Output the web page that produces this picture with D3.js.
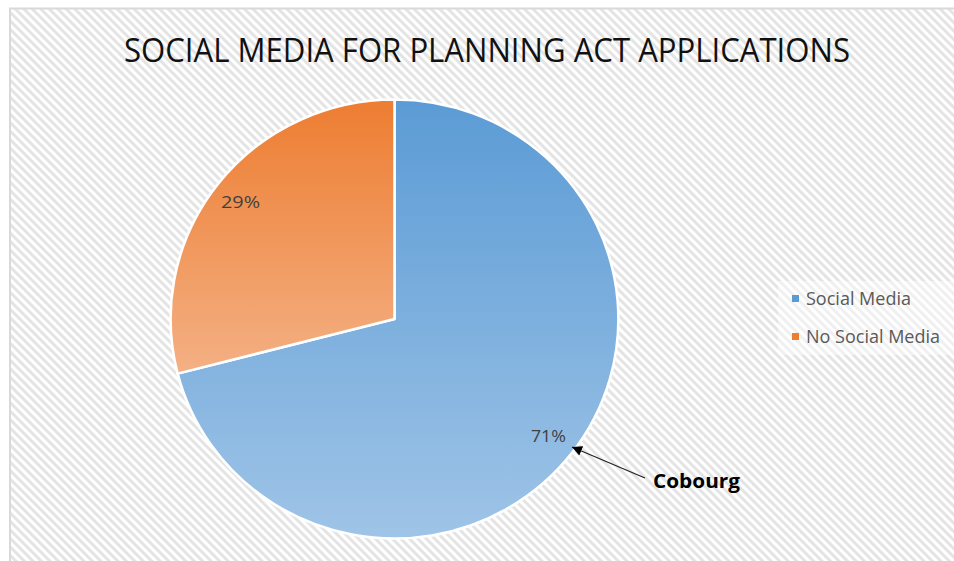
<!DOCTYPE html>
<html>
<head>
<meta charset="utf-8">
<script src="https://cdn.jsdelivr.net/npm/d3@7"></script>
<style>
  html, body { margin: 0; padding: 0; background: #fff; }
  svg { display: block; }
</style>
</head>
<body>
<svg id="chart" width="954" height="561"></svg>
<script>
// Chart data
const categories = ["Social Media", "No Social Media"];
const shares = [71, 29];
const labels = ["71%", "29%"];
const titleText = "SOCIAL MEDIA FOR PLANNING ACT APPLICATIONS";
const calloutText = "Cobourg";

const W = 954, H = 561;
const svg = d3.select("#chart");
const defs = svg.append("defs");

// Diagonal hatch used for the chart area background
const hatch = defs.append("pattern")
  .attr("id", "hatch")
  .attr("patternUnits", "userSpaceOnUse")
  .attr("width", 6).attr("height", 6)
  .attr("patternTransform", "rotate(45)");
hatch.append("rect").attr("width", 6).attr("height", 6).attr("fill", "#ffffff");
hatch.append("rect").attr("width", 6).attr("height", 3).attr("fill", "#e4e4e4");

// Vertical gradients for each slice
const gradStops = [
  ["#5b9bd5", "#9fc4e7"],
  ["#ed7d31", "#f4b084"]
];
gradStops.forEach((s, i) => {
  const g = defs.append("linearGradient")
    .attr("id", "grad" + i)
    .attr("x1", 0).attr("y1", 0).attr("x2", 0).attr("y2", 1);
  g.append("stop").attr("offset", "0%").attr("stop-color", s[0]);
  g.append("stop").attr("offset", "100%").attr("stop-color", s[1]);
});

// Chart area with border (runs past the right and bottom edges)
svg.append("rect")
  .attr("x", 10).attr("y", 8.5)
  .attr("width", W + 20).attr("height", H + 20)
  .attr("fill", "url(#hatch)")
  .attr("stroke", "#d9d9d9").attr("stroke-width", 2);

// Title
svg.append("text")
  .attr("x", 487).attr("y", 62)
  .attr("text-anchor", "middle")
  .attr("font-family", "'Open Sans', sans-serif")
  .attr("font-size", 32)
  .attr("fill", "#111")
  .attr("textLength", 726)
  .attr("lengthAdjust", "spacingAndGlyphs")
  .text(titleText);

// Pie
const cx = 394.5, cy = 319, r = 219.5, sx = 1.02;
const pie = d3.pie().sort(null).value(d => d)(shares);
const arc = d3.arc().innerRadius(0).outerRadius(r);
const labelArc = d3.arc().innerRadius(191).outerRadius(191);

const pg = svg.append("g")
  .attr("transform", `translate(${cx},${cy}) scale(${sx},1)`);
pg.selectAll("path")
  .data(pie)
  .join("path")
  .attr("d", arc)
  .attr("fill", (d, i) => `url(#grad${i})`)
  .attr("stroke", "#ffffff")
  .attr("stroke-width", 2.5)
  .attr("stroke-linejoin", "round");

// Data labels
svg.append("g").selectAll("text")
  .data(pie)
  .join("text")
  .attr("x", d => cx + labelArc.centroid(d)[0] * sx)
  .attr("y", d => cy + labelArc.centroid(d)[1])
  .attr("dy", "0.35em")
  .attr("text-anchor", "middle")
  .attr("font-family", "'Open Sans', sans-serif")
  .attr("font-size", 17)
  .attr("fill", "#404040")
  .attr("textLength", (d, i) => i === 0 ? 35 : 39)
  .attr("lengthAdjust", "spacingAndGlyphs")
  .text((d, i) => labels[i]);

// Legend
const legendColors = ["#5b9bd5", "#ed7d31"];
const legendWidths = [105, 134];
svg.append("rect")
  .attr("x", 778).attr("y", 281).attr("width", 176).attr("height", 74)
  .attr("fill", "#ffffff").attr("opacity", 0.45);
const lg = svg.append("g").selectAll("g")
  .data(categories)
  .join("g")
  .attr("transform", (d, i) => `translate(792,${299 + i * 38})`);
lg.append("rect")
  .attr("x", 0).attr("y", -4).attr("width", 7).attr("height", 7)
  .attr("fill", (d, i) => legendColors[i]);
lg.append("text")
  .attr("x", 14).attr("y", 0)
  .attr("dy", "0.35em")
  .attr("font-family", "'Open Sans', sans-serif")
  .attr("font-size", 18)
  .attr("fill", "#595959")
  .attr("textLength", (d, i) => legendWidths[i])
  .attr("lengthAdjust", "spacingAndGlyphs")
  .text(d => d);

// Callout arrow pointing to the Social Media slice
defs.append("marker")
  .attr("id", "arrowhead")
  .attr("viewBox", "0 0 10 10")
  .attr("refX", 10).attr("refY", 5)
  .attr("markerWidth", 10).attr("markerHeight", 10)
  .attr("markerUnits", "userSpaceOnUse")
  .attr("orient", "auto")
  .append("path")
  .attr("d", "M0,0 L10,5 L0,10 Z")
  .attr("fill", "#000");

svg.append("line")
  .attr("x1", 645).attr("y1", 478)
  .attr("x2", 572).attr("y2", 447)
  .attr("stroke", "#222")
  .attr("stroke-width", 1.3)
  .attr("marker-end", "url(#arrowhead)");

svg.append("text")
  .attr("x", 653).attr("y", 488)
  .attr("font-family", "'Open Sans', sans-serif")
  .attr("font-weight", "bold")
  .attr("font-size", 19)
  .attr("fill", "#000")
  .attr("textLength", 87)
  .attr("lengthAdjust", "spacingAndGlyphs")
  .text(calloutText);
</script>
</body>
</html>
